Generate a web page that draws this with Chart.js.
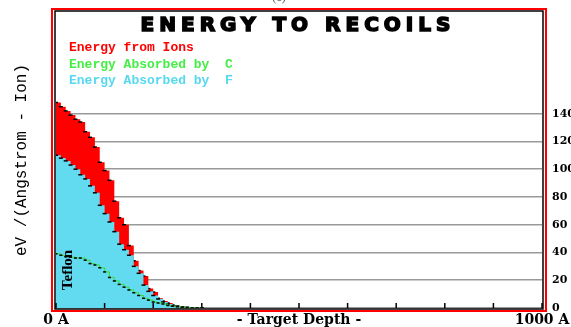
<!DOCTYPE html>
<html>
<head>
<meta charset="utf-8">
<script src="https://cdn.jsdelivr.net/npm/chart.js@4"></script>
<style>
  html, body { margin: 0; padding: 0; background: #fff; }
  #wrap { width: 571px; height: 327px; position: relative; }
</style>
</head>
<body>
<div id="wrap"><canvas id="recoils"></canvas></div>
<script>
// profondeur (A), un point par tranche de 10 A
const depth = [0, 10, 20, 30, 40, 50, 60, 70, 80, 90, 100, 110, 120, 130, 140, 150,
  160, 170, 180, 190, 200, 210, 220, 230, 240, 250, 260, 270, 280, 290, 300];
const fromIons = [148, 145, 142, 139, 136, 134, 127, 123, 116, 105, 99, 92, 77, 65, 60, 45,
  34, 27, 23, 14, 11.5, 7, 5, 3.6, 2.2, 1.4, 0.8, 0.5, 0.2, 0.1, 0];
const absorbedF = [110, 108, 106, 103, 100, 96, 93, 88, 83, 74, 68, 62, 55, 46, 42, 38,
  30, 25, 16.5, 12, 9, 6.5, 4.3, 2.9, 1.4, 1.0, 0.6, 0.3, 0.2, 0.1, 0];
const absorbedC = [39, 38, 37, 36.6, 36, 36, 34.5, 32, 31, 29, 26, 22, 19.5, 17, 15, 13,
  11, 9, 7, 5.7, 4.3, 3.6, 2.9, 1.8, 1.4, 1, 0.6, 0.3, 0.1, 0, 0];
const yTicks = [0, 20, 40, 60, 80, 100, 120, 140];
const xLabels = { 0: '0 A', 500: '- Target Depth -', 1000: '1000 A' };

const legendItems = [
  { text: 'Energy from Ions', color: '#ff0000' },
  { text: 'Energy Absorbed by  C', color: '#44ee44' },
  { text: 'Energy Absorbed by  F', color: '#55d8f0' }
];

function pts(values) {
  return values.map((v, i) => ({ x: depth[i], y: v }));
}

// cadre, titre, legende et textes libres
const decor = {
  id: 'decor',
  afterDraw(chart) {
    const ctx = chart.ctx;
    const a = chart.chartArea;
    const xs = chart.scales.x;
    ctx.save();

    // petites graduations vers le haut
    ctx.strokeStyle = '#000';
    ctx.lineWidth = 1.5;
    xs.ticks.forEach(t => {
      const px = xs.getPixelForValue(t.value);
      ctx.beginPath();
      ctx.moveTo(px, a.bottom);
      ctx.lineTo(px, a.bottom - 5);
      ctx.stroke();
    });

    // cadre noir + rouge
    ctx.strokeStyle = '#000';
    ctx.lineWidth = 1.5;
    ctx.strokeRect(a.left - 1, a.top, a.right - a.left + 2, a.bottom - a.top + 1);
    ctx.strokeStyle = '#ff0000';
    ctx.lineWidth = 2;
    ctx.strokeRect(a.left - 4, a.top - 2, a.right - a.left + 8, a.bottom - a.top + 5);

    // titre (epaissi)
    ctx.fillStyle = '#000';
    ctx.strokeStyle = '#000';
    ctx.lineWidth = 1.6;
    ctx.font = 'bold 20px "DejaVu Sans"';
    ctx.letterSpacing = '5px';
    ctx.textAlign = 'center';
    ctx.textBaseline = 'middle';
    ctx.fillText('ENERGY TO RECOILS', 298, 26);
    ctx.strokeText('ENERGY TO RECOILS', 298, 26);
    ctx.letterSpacing = '0px';

    // legende
    ctx.font = 'bold 13px "Liberation Mono"';
    ctx.textAlign = 'left';
    legendItems.forEach((item, i) => {
      ctx.fillStyle = item.color;
      ctx.fillText(item.text, 69, 48 + i * 16.5);
    });

    // (c) en haut
    ctx.fillStyle = '#555';
    ctx.font = '12px "Liberation Serif"';
    ctx.textAlign = 'center';
    ctx.textBaseline = 'bottom';
    ctx.fillText('(c)', 279, 4);

    // titre axe y
    ctx.fillStyle = '#000';
    ctx.font = '16px "Liberation Mono"';
    ctx.textBaseline = 'middle';
    ctx.translate(22, 160);
    ctx.rotate(-Math.PI / 2);
    ctx.fillText('eV /(Angstrom - Ion)', 0, 0);
    ctx.setTransform(1, 0, 0, 1, 0, 0);

    // Teflon
    ctx.font = 'bold 15px "Liberation Serif"';
    ctx.translate(68, 270);
    ctx.rotate(-Math.PI / 2);
    ctx.fillText('Teflon', 0, 0);
    ctx.restore();
  }
};

const dashPoints = {
  pointStyle: 'line',
  pointRadius: 2,
  pointBorderColor: '#000',
  pointBorderWidth: 1.5,
  pointBackgroundColor: '#000'
};

new Chart(document.getElementById('recoils'), {
  type: 'line',
  data: {
    datasets: [
      {
        label: 'Energy Absorbed by  C',
        data: pts(absorbedC),
        stepped: true,
        borderColor: '#33dd33',
        borderWidth: 1,
        fill: false,
        ...dashPoints,
        pointRadius: 1.5
      },
      {
        label: 'Energy Absorbed by  F',
        data: pts(absorbedF),
        stepped: true,
        borderWidth: 0,
        borderColor: '#62daf0',
        backgroundColor: '#62daf0',
        fill: 'origin',
        ...dashPoints
      },
      {
        label: 'Energy from Ions',
        data: pts(fromIons),
        stepped: true,
        borderWidth: 0,
        borderColor: '#ff0000',
        backgroundColor: '#ff0000',
        fill: 'origin',
        ...dashPoints
      }
    ]
  },
  options: {
    responsive: true,
    maintainAspectRatio: false,
    animation: false,
    layout: { padding: { left: 56, top: 11, right: 0, bottom: 0 } },
    plugins: {
      legend: { display: false },
      tooltip: { enabled: false },
      title: { display: false }
    },
    scales: {
      x: {
        type: 'linear',
        min: 0,
        max: 1000,
        ticks: {
          stepSize: 100,
          autoSkip: false,
          maxRotation: 0,
          padding: 4,
          color: '#000',
          font: { family: 'DejaVu Serif', size: 14, weight: 'bold' },
          callback: v => xLabels[v] || ''
        },
        grid: { display: false, drawTicks: false },
        border: { display: false },
        afterFit(scale) {
          scale.height = 19;
          scale.paddingLeft = 0;
          scale.paddingRight = 0;
        }
      },
      y: {
        position: 'right',
        min: 0,
        max: 214,
        afterBuildTicks(scale) {
          scale.ticks = yTicks.map(v => ({ value: v }));
        },
        ticks: {
          padding: 10,
          color: '#000',
          font: { family: 'DejaVu Serif', size: 11, weight: 'bold' }
        },
        grid: { color: '#999', lineWidth: 1.5, drawTicks: false },
        border: { display: false },
        afterFit(scale) {
          scale.width = 29;
          scale.paddingTop = 0;
          scale.paddingBottom = 0;
        }
      }
    }
  },
  plugins: [decor]
});
</script>
</body>
</html>
